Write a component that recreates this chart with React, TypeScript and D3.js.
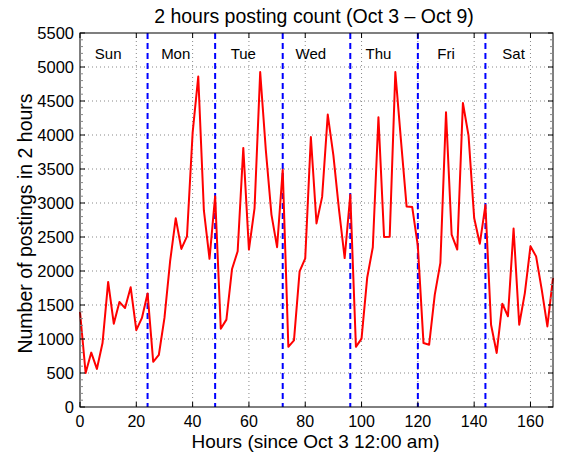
import React from "react";
import * as d3 from "d3";

const hours: number[] = Array.from({ length: 85 }, (_, i) => i * 2);
const counts: number[] = [
  1400, 500, 800, 560, 940, 1840, 1225, 1545, 1455, 1760, 1130, 1310, 1670,
  665, 765, 1310, 2140, 2775, 2325, 2510, 4030, 4860, 2890, 2180, 3100,
  1150, 1285, 2030, 2290, 3810, 2315, 2925, 4925, 3780, 2830, 2350,
  3490, 885, 980, 1995, 2185, 3970, 2700, 3090, 4300, 3700, 2900, 2190,
  3120, 885, 1005, 1900, 2350, 4260, 2500, 2505, 4925, 3920, 2950, 2940,
  2365, 940, 915, 1650, 2120, 4335, 2535, 2315, 4470, 3990, 2780, 2400,
  2970, 1210, 795, 1520, 1335, 2625, 1210, 1675, 2365, 2215, 1725, 1185, 1900,
];
const dayNames: string[] = ["Sun", "Mon", "Tue", "Wed", "Thu", "Fri", "Sat"];
const dayBoundaries: number[] = [24, 48, 72, 96, 120, 144];
const xTicks: number[] = [0, 20, 40, 60, 80, 100, 120, 140, 160];
const yTicks: number[] = [0, 500, 1000, 1500, 2000, 2500, 3000, 3500, 4000, 4500, 5000, 5500];

const W = 567, H = 455;
const L = 80, R = 553, T = 33, B = 407;

export default function App() {
  const x = d3.scaleLinear().domain([0, 168]).range([L, R]);
  const y = d3.scaleLinear().domain([0, 5500]).range([B, T]);
  const line = d3.line<number>().x((_, i) => x(hours[i])).y((d) => y(d));
  const font = "'Liberation Sans', Arial, sans-serif";
  const yMinor = d3.range(0, 5501, 100).filter((v) => v % 500 !== 0);
  return (
    <svg width={W} height={H} style={{ position: "absolute", left: 0, top: 0, fontFamily: font }}>
      <rect x={0} y={0} width={W} height={H} fill="#fff" />
      {/* grid */}
      {xTicks.filter((t) => t > 0).map((t) => (
        <line key={"gx" + t} x1={x(t)} x2={x(t)} y1={T} y2={B} stroke="#888" strokeWidth={1} strokeDasharray="1,3" />
      ))}
      {yTicks.filter((t) => t > 0 && t < 5500).map((t) => (
        <line key={"gy" + t} x1={L} x2={R} y1={y(t)} y2={y(t)} stroke="#888" strokeWidth={1} strokeDasharray="1,3" />
      ))}
      {/* day boundaries */}
      {dayBoundaries.map((d) => (
        <line key={"db" + d} x1={x(d)} x2={x(d)} y1={T} y2={B} stroke="#0000ff" strokeWidth={2} strokeDasharray="6,4" />
      ))}
      {/* data */}
      <path d={line(counts) || ""} fill="none" stroke="#ff0000" strokeWidth={2} strokeLinejoin="round" />
      {/* day labels */}
      {dayNames.map((n, i) => (
        <text key={n} x={x(i * 24 + 10)} y={59} textAnchor="middle" fontSize={15} fill="#000">{n}</text>
      ))}
      {/* frame */}
      <rect x={L} y={T} width={R - L} height={B - T} fill="none" stroke="#000" strokeWidth={1} />
      {/* ticks */}
      {xTicks.map((t) => (
        <g key={"xt" + t}>
          <line x1={x(t)} x2={x(t)} y1={B} y2={B - 5} stroke="#000" />
          <line x1={x(t)} x2={x(t)} y1={T} y2={T + 5} stroke="#000" />
          <text x={x(t)} y={427} textAnchor="middle" fontSize={16} fill="#000">{t}</text>
        </g>
      ))}
      {yTicks.map((t) => (
        <g key={"yt" + t}>
          <line x1={L} x2={L + 5} y1={y(t)} y2={y(t)} stroke="#000" />
          <line x1={R} x2={R - 5} y1={y(t)} y2={y(t)} stroke="#000" />
          <text x={74} y={y(t) + 6} textAnchor="end" fontSize={16.5} fill="#000">{t}</text>
        </g>
      ))}
      {yMinor.map((t) => (
        <g key={"ym" + t}>
          <line x1={L} x2={L + 3} y1={y(t)} y2={y(t)} stroke="#888" />
          <line x1={R} x2={R - 3} y1={y(t)} y2={y(t)} stroke="#888" />
        </g>
      ))}
      {/* titles */}
      <text x={314} y={23} textAnchor="middle" fontSize={19.5} fill="#000">2 hours posting count (Oct 3 – Oct 9)</text>
      <text x={315.5} y={448} textAnchor="middle" fontSize={19} fill="#000">Hours (since Oct 3 12:00 am)</text>
      <text transform={`translate(32,223.5) rotate(-90)`} textAnchor="middle" fontSize={19.5} fill="#000">Number of postings in 2 hours</text>
    </svg>
  );
}
